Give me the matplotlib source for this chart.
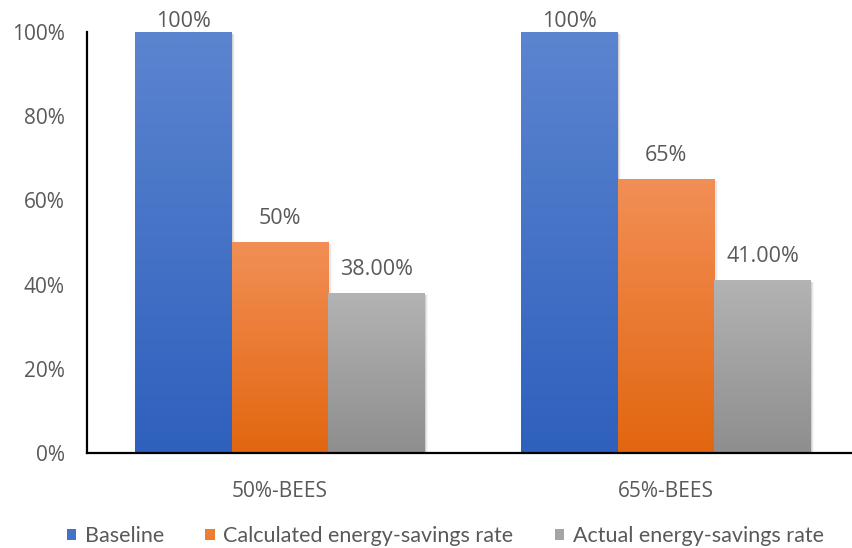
import numpy as np
import matplotlib.pyplot as plt
from matplotlib.colors import LinearSegmentedColormap
from matplotlib.patches import Patch, Rectangle

groups = ['50%-BEES', '65%-BEES']
series = ['Baseline', 'Calculated energy-savings rate', 'Actual energy-savings rate']
values = [
    [1.00, 1.00],   # Baseline
    [0.50, 0.65],   # Calculated
    [0.38, 0.41],   # Actual
]
labels = [
    ['100%', '100%'],
    ['50%', '65%'],
    ['38.00%', '41.00%'],
]
# (bottom, top) gradient colours and flat legend colour per series
grad = [('#2e60bd', '#5c85d0'), ('#e2660f', '#f28f56'), ('#8e8e8e', '#b3b3b3')]
flat = ['#4472c4', '#ed7d31', '#a5a5a5']

text_col = '#595959'
tick_font = 'Open Sans'
leg_font = 'Lato'

fig = plt.figure(figsize=(8.53, 5.48), dpi=100)
ax = fig.add_axes([87 / 853, 1 - 453 / 548, 1 - 87 / 853, (453 - 32) / 548])

width = 0.25
x = np.arange(len(groups))
for i, vals in enumerate(values):
    cmap = LinearSegmentedColormap.from_list(f'g{i}', list(grad[i]))
    for j, v in enumerate(vals):
        x0 = x[j] + (i - 1) * width - width / 2
        # soft drop shadow on the right side
        for k, a in enumerate([0.10, 0.06, 0.03]):
            ax.add_patch(Rectangle((x0 + width, 0), 0.003 * (k + 1), v - 0.004,
                                   color='black', alpha=a, lw=0, zorder=1))
        g = np.linspace(0, 1, 256).reshape(-1, 1)
        ax.imshow(g, cmap=cmap, origin='lower', aspect='auto',
                  extent=(x0, x0 + width, 0, v), zorder=2, interpolation='bilinear')
        # labels sit above the bar, but never above the plot top
        ax.text(x[j] + (i - 1) * width, min(v + 0.031, 1.0), labels[i][j],
                ha='center', va='bottom', fontsize=15.5, color=text_col, family=tick_font)

ax.set_xlim(-0.5, (853 - 280) / 386)
ax.set_ylim(0, 1)
ticks = np.arange(0, 1.01, 0.2)
ax.set_yticks(ticks)
ax.set_yticklabels([f'{int(round(t * 100))}%' for t in ticks],
                   fontsize=15, color=text_col, family=tick_font)
ax.set_xticks(x)
ax.set_xticklabels(groups, fontsize=15, color=text_col, family=tick_font)
ax.tick_params(axis='both', length=0)
ax.tick_params(axis='x', pad=20)
ax.tick_params(axis='y', pad=16)
for s in ['top', 'right']:
    ax.spines[s].set_visible(False)
for s in ['left', 'bottom']:
    ax.spines[s].set_color('black')
    ax.spines[s].set_linewidth(1.6)

handles = [Patch(facecolor=c, edgecolor='none') for c in flat]
fig.legend(handles, series, loc='center', bbox_to_anchor=(0.522, 1 - 536 / 548), ncol=3,
           frameon=False, handlelength=0.45, handleheight=0.45, handletextpad=0.4,
           columnspacing=1.9, prop={'family': leg_font, 'size': 15.5},
           labelcolor=text_col)

fig.savefig('out.png', dpi=100)
